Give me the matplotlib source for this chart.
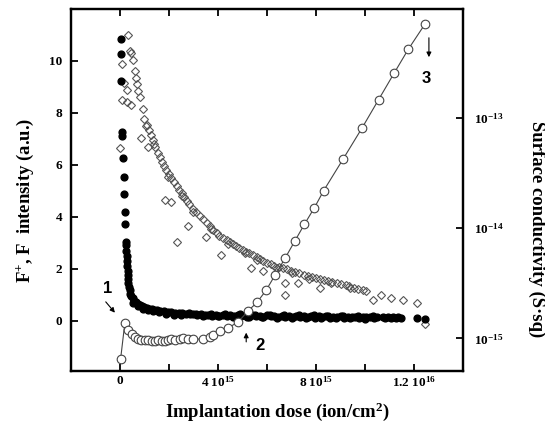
import matplotlib
matplotlib.use("Agg")
import matplotlib.pyplot as plt
from matplotlib.ticker import NullLocator, FixedLocator

plt.rcParams['font.family'] = ['Liberation Serif', 'DejaVu Serif']
plt.rcParams['font.weight'] = 'bold'
plt.rcParams['mathtext.fontset'] = 'custom'
plt.rcParams['mathtext.rm'] = 'Liberation Serif:bold'
plt.rcParams['mathtext.it'] = 'Liberation Serif:bold:italic'
plt.rcParams['mathtext.bf'] = 'Liberation Serif:bold'
plt.rcParams['mathtext.default'] = 'rm'

# ---- data (dose in units of 1e15 ion/cm^2) ----
fplus_dose = [0.03, 0.03, 0.06, 0.09, 0.10, 0.13, 0.16, 0.16, 0.19, 0.20, 0.23, 0.25, 0.26, 0.27,
              0.28, 0.30, 0.31, 0.32, 0.33, 0.35, 0.37, 0.40, 0.43, 0.47, 0.52, 0.58, 0.65, 0.72,
              0.80, 0.90, 1.00, 1.10, 1.20, 1.30, 1.40, 1.50, 1.65, 1.80, 1.95, 2.10, 2.25, 2.40,
              2.55, 2.70, 2.85, 3.00, 3.15, 3.30, 3.45, 3.60, 3.75, 3.90, 4.05, 4.20, 4.35, 4.50,
              4.65, 4.80, 4.95, 5.10, 5.25, 5.40, 5.55, 5.70, 5.85, 6.00, 6.15, 6.30, 6.45, 6.60,
              6.75, 6.90, 7.05, 7.20, 7.35, 7.50, 7.65, 7.80, 7.95, 8.10, 8.25, 8.40, 8.55, 8.70,
              8.85, 9.00, 9.15, 9.30, 9.45, 9.60, 9.75, 9.90, 10.05, 10.20, 10.35, 10.48,
              10.72, 10.82, 10.92, 11.05, 11.15, 11.25, 11.35, 11.45, 12.10, 12.45,
              0.55, 0.75, 0.95, 1.15, 1.35, 1.60, 1.90, 2.20, 2.50, 2.80, 3.10, 3.40, 3.70, 4.00,
              4.30, 4.60, 4.90, 5.20, 5.50, 5.80, 6.10, 6.40, 6.70, 7.00, 7.30, 7.60, 7.90, 8.20,
              8.50, 8.80, 9.10, 9.40, 9.70, 10.00, 10.30]
fplus_int = [10.84, 10.25, 9.23, 7.25, 7.12, 6.26, 5.55, 4.87, 4.20, 3.72, 3.05, 2.90, 2.70, 2.50,
             2.30, 2.10, 1.90, 1.75, 1.60, 1.45, 1.30, 1.18, 1.05, 0.95, 0.86, 0.78, 0.72, 0.66,
             0.60, 0.56, 0.52, 0.49, 0.47, 0.45, 0.43, 0.41, 0.39, 0.37, 0.35, 0.33, 0.31, 0.30,
             0.29, 0.27, 0.26, 0.25, 0.21, 0.26, 0.22, 0.24, 0.19, 0.23, 0.20, 0.24, 0.18, 0.22,
             0.17, 0.23, 0.19, 0.21, 0.16, 0.22, 0.18, 0.20, 0.15, 0.21, 0.17, 0.19, 0.14, 0.20,
             0.16, 0.19, 0.13, 0.18, 0.16, 0.19, 0.14, 0.17, 0.12, 0.18, 0.15, 0.17, 0.12, 0.16,
             0.14, 0.17, 0.11, 0.16, 0.13, 0.16, 0.11, 0.15, 0.13, 0.15, 0.11, 0.14,
             0.13, 0.11, 0.14, 0.12, 0.13, 0.10, 0.13, 0.11, 0.10, 0.07,
             0.70, 0.58, 0.47, 0.42, 0.36, 0.32, 0.28, 0.24, 0.21, 0.30, 0.27, 0.18, 0.28, 0.17,
             0.26, 0.15, 0.25, 0.14, 0.24, 0.13, 0.24, 0.12, 0.23, 0.11, 0.22, 0.10, 0.21, 0.10,
             0.20, 0.09, 0.19, 0.09, 0.18, 0.08, 0.17]

fminus_dose = [0.33, 0.40, 0.45, 0.53, 0.60, 0.65, 0.70, 0.75, 0.82, 0.93, 1.00, 1.10, 1.20, 1.25,
               1.35, 1.45, 1.55, 1.63, 1.72, 1.80, 1.90, 2.00, 2.10, 2.20, 2.32, 2.42, 2.52, 2.62,
               2.72, 2.82, 2.97, 3.10, 3.25, 3.40, 3.55, 3.66, 3.80, 3.94, 4.05, 4.20, 4.35, 4.50,
               4.60, 4.75, 4.87, 5.00, 5.15, 5.28, 5.42, 5.57, 5.70, 5.85, 5.98, 6.15, 6.30, 6.47,
               6.63, 6.80, 6.98, 7.15, 7.32, 7.50, 7.65, 7.82, 8.00, 8.15, 8.32, 8.50, 8.66, 8.85,
               9.00, 9.20, 9.35, 9.55, 9.70, 9.90, 10.04, 10.65, 11.06, 11.54, 12.11, 12.44,
               0.00, 0.10, 0.18, 0.30, 0.10, 0.27, 0.47, 0.88, 1.15, 1.83, 2.10, 2.78, 2.32, 3.53,
               4.14, 5.35, 5.83, 6.75, 7.25, 6.75, 8.16, 10.30, 1.05, 1.40, 1.95, 2.55, 3.00, 3.70,
               4.40, 5.10, 5.60, 6.40, 7.00, 7.70, 8.60, 9.40]
fminus_int = [11.00, 10.40, 10.30, 10.05, 9.60, 9.35, 9.10, 8.85, 8.60, 8.15, 7.75, 7.55, 7.35, 7.15,
              6.95, 6.70, 6.45, 6.30, 6.10, 5.95, 5.80, 5.65, 5.50, 5.35, 5.20, 5.05, 4.90, 4.75,
              4.60, 4.48, 4.30, 4.18, 4.05, 3.90, 3.75, 3.65, 3.50, 3.37, 3.28, 3.20, 3.10, 3.02,
              2.97, 2.88, 2.80, 2.73, 2.66, 2.60, 2.53, 2.45, 2.38, 2.30, 2.22, 2.17, 2.12, 2.07,
              2.03, 1.98, 1.93, 1.88, 1.83, 1.78, 1.73, 1.68, 1.64, 1.61, 1.57, 1.54, 1.51, 1.46,
              1.42, 1.37, 1.32, 1.27, 1.22, 1.17, 1.13, 1.00, 0.87, 0.81, 0.70, -0.12,
              6.64, 9.90, 9.14, 8.88, 8.50, 8.43, 8.30, 7.03, 6.70, 4.65, 4.59, 3.63, 3.05, 3.24,
              2.54, 2.03, 1.90, 1.45, 1.47, 1.00, 1.26, 0.81, 7.50, 6.80, 5.55, 4.80, 4.20, 3.55,
              2.95, 2.60, 2.35, 2.02, 1.85, 1.62, 1.44, 1.25]

cond_dose = [0.03, 0.20, 0.34, 0.48, 0.61, 0.74, 0.88, 1.02, 1.15, 1.29, 1.42, 1.56, 1.70, 1.83,
             1.96, 2.10, 2.24, 2.44, 2.57, 2.78, 2.98, 3.39, 3.66, 3.79, 4.07, 4.40, 4.81, 5.22,
             5.59, 5.96, 6.34, 6.75, 7.13, 7.52, 7.93, 8.31, 9.11, 9.87, 10.55, 11.18, 11.76, 12.44]
cond_val = [0.655e-15, 1.37e-15, 1.20e-15, 1.09e-15, 1.02e-15, 0.99e-15, 0.97e-15, 0.96e-15,
            0.96e-15, 0.95e-15, 0.95e-15, 0.96e-15, 0.95e-15, 0.945e-15, 0.97e-15, 0.98e-15,
            0.97e-15, 0.99e-15, 1.006e-15, 0.99e-15, 0.98e-15, 0.99e-15, 1.04e-15, 1.075e-15,
            1.157e-15, 1.245e-15, 1.40e-15, 1.77e-15, 2.12e-15, 2.73e-15, 3.79e-15, 5.41e-15,
            7.62e-15, 10.8e-15, 15.3e-15, 21.9e-15, 42.6e-15, 80.7e-15, 146.5e-15, 254e-15,
            419e-15, 709e-15]

x_ticks = [0, 2, 4, 6, 8, 10, 12]
x_ticklabels = ['0', '', r'4 10$^{15}$', '', r'8 10$^{15}$', '', r'1.2 10$^{16}$']
y_ticks = [0, 2, 4, 6, 8, 10]
y2_ticks = [1e-15, 1e-14, 1e-13]

# ---- figure ----
fig = plt.figure(figsize=(5.45, 4.30), dpi=100)
ax = fig.add_axes([0.130, 0.138, 0.720, 0.841])
ax2 = ax.twinx()

ax.plot(fminus_dose, fminus_int, linestyle='none', marker='D', markersize=4.4,
        markerfacecolor='none', markeredgecolor='#555555', markeredgewidth=0.8, zorder=2)
ax.plot(fplus_dose, fplus_int, linestyle='none', marker='o', markersize=4.9,
        markerfacecolor='black', markeredgecolor='black', zorder=3)

ax2.plot(cond_dose, cond_val, color='#444444', linewidth=0.8, marker='o', markersize=6.2,
         markerfacecolor='white', markeredgecolor='#444444', markeredgewidth=0.8)

ax.set_xlim(-2, 14)
ax.set_ylim(-1.92, 12.0)
ax2.set_yscale('log')
ax2.set_ylim(5.1e-16, 9.7e-13)

ax.xaxis.set_major_locator(FixedLocator(x_ticks))
ax.set_xticklabels(x_ticklabels)
ax.set_yticks(y_ticks)
ax.set_yticklabels([str(v) for v in y_ticks])
ax2.set_yticks(y2_ticks)
ax2.set_yticklabels([r'10$^{-15}$', r'10$^{-14}$', r'10$^{-13}$'])
ax2.yaxis.set_minor_locator(NullLocator())

ax.tick_params(axis='both', direction='in', length=5, width=1.3, labelsize=9.5, pad=6)
ax.tick_params(axis='x', top=True, pad=3)
ax.tick_params(axis='y', right=False)
ax2.tick_params(axis='y', direction='in', length=5, width=1.3, labelsize=9.5, pad=8)

for sp in ax.spines.values():
    sp.set_linewidth(1.6)
for sp in ax2.spines.values():
    sp.set_linewidth(1.6)

ax.set_xlabel(r'Implantation dose (ion/cm$^{2}$)', fontsize=13.5, fontweight='bold',
              va='center', ha='center')
ax.xaxis.set_label_coords(0.526, -0.114)
ax.set_ylabel(r'F$^{+}$, F$^{\ }$ intensity (a.u.)', fontsize=13.5, fontweight='bold',
              va='center', ha='center')
ax.yaxis.set_label_coords(-0.115, 0.47)
ax2.set_ylabel('Surface conductivity (S·sq)', fontsize=13.5, fontweight='bold', rotation=270,
               va='center', ha='center')
ax2.yaxis.set_label_coords(1.186, 0.39)

ann_font = dict(family='Liberation Sans', weight='bold', size=12)
arrow = dict(arrowstyle='-|>', color='black', lw=0.8, mutation_scale=7)
ax.annotate('', xy=(-0.13, 0.23), xytext=(-0.65, 0.81), arrowprops=arrow)
ax.text(-0.52, 1.26, '1', ha='center', va='center', **ann_font)
ax.annotate('', xy=(5.15, -0.35), xytext=(5.15, -0.92), arrowprops=arrow)
ax.text(5.72, -0.96, '2', ha='center', va='center', **ann_font)
ax.annotate('', xy=(12.6, 10.04), xytext=(12.6, 11.0), arrowprops=arrow)
ax.text(12.49, 9.33, '3', ha='center', va='center', **ann_font)

fig.savefig('out.png', dpi=100)
